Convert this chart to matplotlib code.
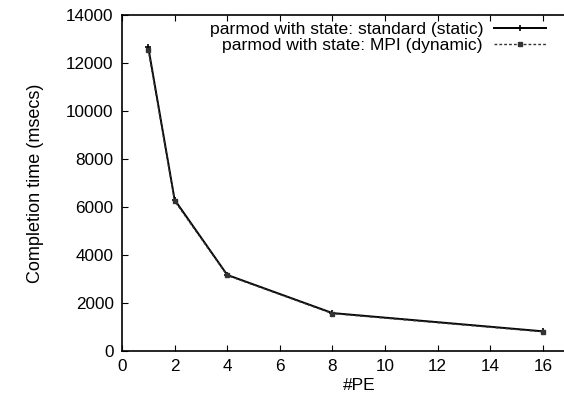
import matplotlib
matplotlib.use("Agg")
import matplotlib.pyplot as plt

# number of processing elements
pe = [1, 2, 4, 8, 16]
# completion times (msecs)
static_ms = [12650, 6300, 3170, 1580, 820]
mpi_ms = [12550, 6250, 3150, 1560, 800]

plt.rcParams['font.family'] = ['Liberation Sans', 'DejaVu Sans']

fig = plt.figure(figsize=(5.64, 4.08), dpi=100)
# axes run off the right edge like the cropped original
ax = fig.add_axes([122 / 564, 57 / 408, 473.6 / 564, 336 / 408])

ax.plot(pe, static_ms, color='black', lw=1.4, marker='+', ms=5, mew=1.2,
        label='parmod with state: standard (static)')
ax.plot(pe, mpi_ms, color='#333333', lw=1.0, ls=(0, (2, 1.5)), marker='s', ms=3,
        label='parmod with state: MPI (dynamic)')

ax.set_xlim(0, 18)
ax.set_ylim(0, 14000)
ax.set_xticks(range(0, 18, 2))
ax.set_yticks(range(0, 14001, 2000))
ax.tick_params(direction='in', top=True, right=True, length=4, labelsize=12.3, pad=6)
for s in ax.spines.values():
    s.set_linewidth(1.2)

ax.set_xlabel('#PE', fontsize=12.5, labelpad=3)
ax.set_ylabel('Completion time (msecs)', fontsize=13, labelpad=16)

leg = ax.legend(loc='upper left', bbox_to_anchor=(77 / 473.6, 1.01), frameon=False,
                markerfirst=False, fontsize=12.6, handlelength=3.0,
                borderaxespad=0.2, labelspacing=0.0, handletextpad=0.6)
# right-align legend text as gnuplot does
for t in leg.get_texts():
    t.set_ha('right')
leg._legend_box.align = 'right'

fig.savefig('out.png', dpi=100)
